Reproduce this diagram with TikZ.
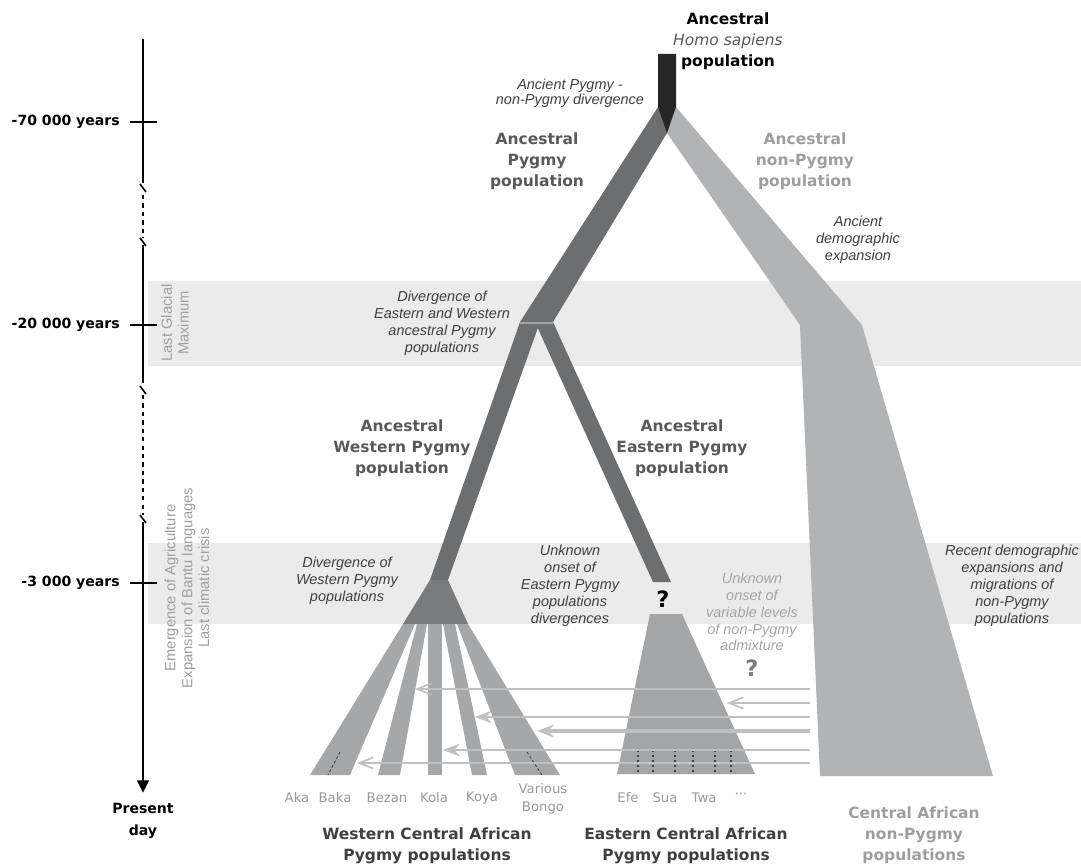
\documentclass[tikz,border=0pt]{standalone}
\usepackage{fontspec}
\setmainfont{Liberation Sans}
\newfontfamily\headfont{DejaVu Sans}
\usetikzlibrary{arrows.meta}
\definecolor{bandgray}{HTML}{EBEBEC}
\definecolor{stemblack}{HTML}{262626}
\definecolor{pygmygray}{HTML}{6D6E70}
\definecolor{splitgray}{HTML}{7A7B7D}
\definecolor{fangray}{HTML}{A6A7A9}
\definecolor{eastgray}{HTML}{A4A5A7}
\definecolor{nonpygmygray}{HTML}{B2B3B5}
\definecolor{flowgray}{HTML}{BFC0C2}
\definecolor{headdark}{HTML}{58595B}
\definecolor{headlight}{HTML}{9D9EA0}
\definecolor{notedark}{HTML}{3F3F41}
\definecolor{notelight}{HTML}{A3A4A6}
\definecolor{namegray}{HTML}{98999B}

\begin{document}
\begin{tikzpicture}[x=0.025cm, y=-0.025cm,
  head/.style={font=\headfont\bfseries\fontsize{11}{15}\selectfont, align=center, inner sep=0pt},
  note/.style={font=\itshape\fontsize{10.3}{12}\selectfont, align=center, text=notedark, inner sep=0pt},
  popname/.style={font=\headfont\fontsize{9.4}{12.5}\selectfont, align=center, text=namegray, inner sep=0pt},
  eventlabel/.style={font=\fontsize{10.5}{12}\selectfont, align=center, text=headlight, rotate=90, inner sep=0pt},
  axislabel/.style={font=\headfont\bfseries\fontsize{10}{15.5}\selectfont, inner sep=0pt},
  axisline/.style={line width=2.1pt, black},
  breakline/.style={line width=2.1pt, black, dash pattern=on 3pt off 3pt},
  query/.style={font=\headfont\bfseries\fontsize{16}{16}\selectfont, inner sep=0pt},
  flow/.style={flowgray},
  barb/.style={-{Straight Barb[length=10pt,width=8pt,line width=1.2pt]}},
  stealthtip/.style={-{Stealth[length=12pt,width=9pt,inset=4pt]}}]

  \useasboundingbox (0,0) rectangle (1081,867);

  % --- Climate bands ---
  \fill[bandgray] (148,281) rectangle (1081,366);
  \fill[bandgray] (148,543) rectangle (1081,624);

  % --- Time axis ---
  \draw[axisline] (143,39) -- (143,183);
  \draw[breakline] (143,195) -- (143,238);
  \draw[axisline] (143,245) -- (143,383);
  \draw[breakline] (143,395) -- (143,515);
  \draw[axisline, -{Triangle[length=9pt,width=8pt]}] (143,522) -- (143,793);
  \foreach \y in {188,242,390,519}
    \draw[line width=1.2pt] (140,\y-4) -- (146,\y+4);
  \foreach \y in {122,325,583}
    \draw[axisline] (130,\y) -- (157,\y);

  % --- Axis labels ---
  \node[axislabel, anchor=east] (t70) at (120,122) {-70 000 years};
  \node[axislabel, anchor=east] (t20) at (120,325) {-20 000 years};
  \node[axislabel, anchor=east] (t3)  at (120,583) {-3 000 years};
  \node[axislabel, align=center] (present) at (143,821) {Present\\day};
  \node[eventlabel] (lgm)  at (175,323) {Last Glacial\\Maximum};
  \node[eventlabel] (holo) at (187,588) {Emergence of Agriculture\\Expansion of Bantu languages\\Last climatic crisis};

  % --- Pygmy branch and non-Pygmy branch ---
  \fill[pygmygray] (658,107) -- (667,107) -- (667,133) -- (553,322) -- (520,322) -- cycle;
  \fill[nonpygmygray] (667,107) -- (676,107) -- (862,325) -- (993,776) -- (820,776)
    -- (800,325) -- (667,133) -- cycle;
  \fill[stemblack] (658,54) -- (676,54) -- (676,107) -- (667,133) -- (658,107) -- cycle;

  % --- Western and Eastern ancestral branches ---
  \fill[pygmygray] (520,322) -- (540,322) -- (448,580) -- (430,580) -- cycle;
  \fill[pygmygray] (535,322) -- (553,322) -- (671,582) -- (653,582) -- cycle;
  \draw[splitgray!70!white, line width=0.8pt] (520,323) -- (553,323);

  % --- Western split and its populations ---
  \fill[splitgray] (430,580) -- (448,580) -- (468,624) -- (403,624) -- cycle;
  \fill[fangray] (403,624) -- (415,624) -- (350,775) -- (310,775) -- cycle;
  \fill[fangray] (417,624) -- (427,624) -- (400,775) -- (378,775) -- cycle;
  \fill[fangray] (428,624) -- (442,624) -- (442,775) -- (428,775) -- cycle;
  \fill[fangray] (443,624) -- (455,624) -- (487,775) -- (472,775) -- cycle;
  \fill[fangray] (457,624) -- (468,624) -- (560,775) -- (515,775) -- cycle;
  \draw[notedark, line width=0.6pt, dash pattern=on 2pt off 1.5pt] (340,752) -- (328,775);
  \draw[notedark, line width=0.6pt, dash pattern=on 2pt off 1.5pt] (527,752) -- (542,775);

  % --- Eastern populations ---
  \fill[eastgray] (650,614) -- (682,614) -- (755,774) -- (617,774) -- cycle;
  \foreach \x in {638,653,675,693,715,731}
    \draw[notedark, line width=0.8pt, dash pattern=on 1.5pt off 2pt] (\x,750) -- (\x,774);

  % --- Recent non-Pygmy gene flow ---
  \foreach \n/\y/\tip/\w/\st in {1/689/415/1.3/barb, 2/703/727/0.8/barb, 3/717/475/1.3/stealthtip,
      4/731/537/2.2/stealthtip, 5/750/443/1.3/stealthtip, 6/763/357/0.8/barb}{
    \coordinate (src\n) at (810,\y);
    \coordinate (tip\n) at (\tip,\y);
    \draw[flow, line width=\w pt, \st] (src\n) -- (tip\n);
  }

  % --- Population headings ---
  \node[head, text=black] (sapiens) at (728,41)
    {Ancestral\\{\mdseries\itshape\color{headdark}Homo sapiens}\\population};
  \node[head, text=headdark]  (pygmy)    at (537,161) {Ancestral\\Pygmy\\population};
  \node[head, text=headlight] (nonpygmy) at (805,161) {Ancestral\\non-Pygmy\\population};
  \node[head, text=headdark]  (western)  at (402,448) {Ancestral\\Western Pygmy\\population};
  \node[head, text=headdark]  (eastern)  at (682,448) {Ancestral\\Eastern Pygmy\\population};
  \node[head, text=notedark]  (wgroup)   at (427,846) {Western Central African\\Pygmy populations};
  \node[head, text=notedark]  (egroup)   at (686,846) {Eastern Central African\\Pygmy populations};
  \node[head, text=headlight] (cgroup)   at (914,835) {Central African\\non-Pygmy\\populations};

  % --- Event notes ---
  \node[note, font=\itshape\fontsize{10.3}{10.6}\selectfont] (ancdiv) at (570,93) {Ancient Pygmy -\\non-Pygmy divergence};
  \node[note] (ancexp)  at (858,240)  {Ancient\\demographic\\expansion};
  \node[note] (ewdiv)   at (442,323)  {Divergence of\\Eastern and Western\\ancestral Pygmy\\populations};
  \node[note] (wdiv)    at (347,581)  {Divergence of\\Western Pygmy\\populations};
  \node[note] (ediv)    at (570,586)  {Unknown\\onset of\\Eastern Pygmy\\populations\\divergences};
  \node[note, text=notelight] (admix) at (752,612) {Unknown\\onset of\\variable levels\\of non-Pygmy\\admixture};
  \node[note] (recent)  at (1012,586) {Recent demographic\\expansions and\\migrations of\\non-Pygmy\\populations};
  \node[query] (qeast) at (663,599) {?};
  \node[query, text=splitgray] (qadmix) at (752,668) {?};

  % --- Population names ---
  \node[popname] (aka)     at (297,798) {Aka};
  \node[popname] (baka)    at (335,798) {Baka};
  \node[popname] (bezan)   at (387,798) {Bezan};
  \node[popname] (kola)    at (434,798) {Kola};
  \node[popname] (koya)    at (482,798) {Koya};
  \node[popname] (bongo)   at (543,799) {Various\\Bongo};
  \node[popname] (efe)     at (628,798) {Efe};
  \node[popname] (sua)     at (665,798) {Sua};
  \node[popname] (twa)     at (704,798) {Twa};
  \node[popname] (others)  at (741,796) {···};
\end{tikzpicture}
\end{document}
